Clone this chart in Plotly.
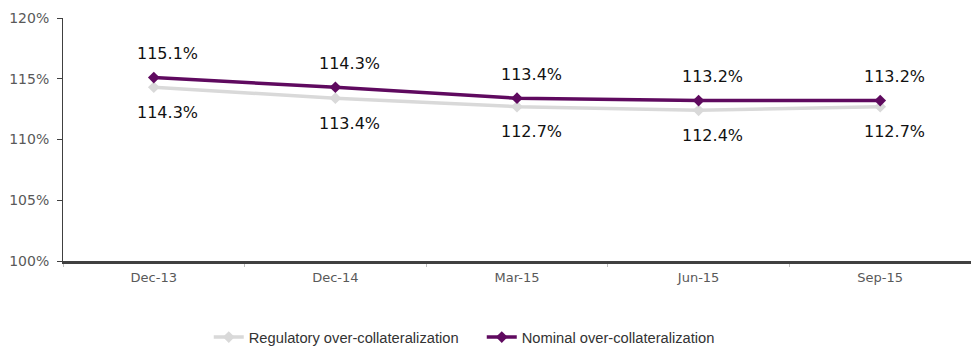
import plotly.graph_objects as go

periods = ["Dec-13", "Dec-14", "Mar-15", "Jun-15", "Sep-15"]
regulatory = [114.3, 113.4, 112.7, 112.4, 112.7]
nominal = [115.1, 114.3, 113.4, 113.2, 113.2]

REG_COLOR = "#D9D9D9"
NOM_COLOR = "#5F0A5F"
LABEL_FONT = dict(family="DejaVu Sans, Verdana, sans-serif", size=16, color="#111111")
TICK_FAMILY = "DejaVu Sans, Verdana, sans-serif"

fig = go.Figure()
fig.add_trace(go.Scatter(
    x=periods, y=regulatory, mode="lines+markers",
    name="Regulatory over-collateralization",
    line=dict(color=REG_COLOR, width=3.5),
    marker=dict(symbol="diamond", size=9, color=REG_COLOR),
))
fig.add_trace(go.Scatter(
    x=periods, y=nominal, mode="lines+markers",
    name="Nominal over-collateralization",
    line=dict(color=NOM_COLOR, width=3.5),
    marker=dict(symbol="diamond", size=9, color=NOM_COLOR),
))

# value labels: nominal above the line, regulatory below
for p, v in zip(periods, nominal):
    fig.add_annotation(x=p, y=v, text=f"{v:.1f}%", showarrow=False,
                       xshift=14, yshift=24, font=LABEL_FONT)
for p, v in zip(periods, regulatory):
    fig.add_annotation(x=p, y=v, text=f"{v:.1f}%", showarrow=False,
                       xshift=14, yshift=-25, font=LABEL_FONT)

fig.update_layout(
    width=971, height=348,
    margin=dict(l=63, r=0, t=18, b=87, autoexpand=False),
    plot_bgcolor="white", paper_bgcolor="white",
    showlegend=True,
    legend=dict(orientation="h", xref="container", x=0.215, xanchor="left",
                yref="container", y=0.03, yanchor="middle",
                font=dict(family="Liberation Sans, Arial, sans-serif", size=14.7, color="#333333"),
                entrywidth=228, tracegroupgap=0, itemwidth=30, traceorder="normal"),
)
fig.update_xaxes(
    type="category", range=[-0.5, 4.5],
    showline=True, linecolor="#404040", linewidth=2.5,
    showgrid=False, ticks="outside", tickson="boundaries", ticklen=3,
    tickcolor="#BFBFBF", tickwidth=1, ticklabelstandoff=3,
    tickfont=dict(family=TICK_FAMILY, size=13, color="#595959"),
    automargin=False,
)
fig.update_yaxes(
    range=[100, 120], dtick=5, ticksuffix="%",
    showline=True, linecolor="#404040", linewidth=1,
    showgrid=False, ticks="outside", ticklen=5, tickcolor="#404040",
    ticklabelstandoff=5,
    tickfont=dict(family=TICK_FAMILY, size=14, color="#595959"),
    zeroline=False, automargin=False,
)

fig.write_html("out.html")
